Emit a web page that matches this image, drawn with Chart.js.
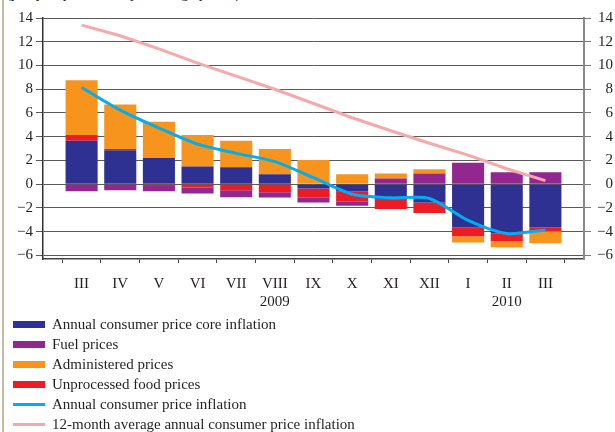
<!DOCTYPE html>
<html>
<head>
<meta charset="UTF-8">
<title>Inflation components</title>
<script src="https://cdn.jsdelivr.net/npm/chart.js@4"></script>
<style>
body { margin:0; background:#fff; font-family:"Liberation Serif", serif; color:#231f20; }
#wrap { position:relative; width:615px; height:432px; overflow:hidden; }
#edge { position:absolute; left:2px; top:0; width:2px; height:432px; background:#cdb89b; }
#note { position:absolute; left:6px; top:-14px; font-size:15px; line-height:15px; white-space:nowrap; }
#chart { position:absolute; left:0; top:0; }
#legend { position:absolute; left:13px; top:314px; font-size:15px; }
.row { height:20px; display:flex; align-items:center; }
.sw { width:32px; margin-right:7px; }
</style>
</head>
<body>
<div id="wrap">
  <div id="edge"></div>
  <div id="note">(y-o-y in percent; in percentage points)</div>
  <canvas id="chart" width="615" height="324"></canvas>
  <div id="legend"></div>
</div>
<script>
// months, March 2009 .. March 2010
const months = ['III','IV','V','VI','VII','VIII','IX','X','XI','XII','I','II','III'];
const years  = ['', '', '', '', '', '2009', '', '', '', '', '', '2010', ''];
const yTicks = [-6, -4, -2, 0, 2, 4, 6, 8, 10, 12, 14];

// contributions, percentage points
const core  = [3.65, 2.87, 2.2, 1.5, 1.43, 0.83, -0.37, -0.6, -1.31, -1.54, -3.62, -4.13, -3.62];
const food  = [0.5, 0.1, -0.15, -0.28, -0.5, -0.68, -0.77, -0.88, -0.77, -0.88, -0.76, -0.65, -0.34];
const fuel  = [-0.6, -0.5, -0.45, -0.5, -0.6, -0.43, -0.4, -0.34, 0.49, 0.91, 1.8, 1.0, 1.0];
const admin = [4.6, 3.75, 3.07, 2.65, 2.22, 2.14, 2.03, 0.83, 0.42, 0.35, -0.52, -0.54, -1.02];
// lines, percent
const cpi   = [8.15, 6.24, 4.73, 3.37, 2.6, 1.9, 0.55, -0.85, -1.15, -1.2, -3.05, -4.15, -3.85];
const avg12 = [13.4, 12.5, 11.4, 10.2, 9.1, 8.0, 6.8, 5.6, 4.5, 3.45, 2.45, 1.3, 0.3];

const C_CORE = '#2e3192', C_FUEL = '#92278f', C_ADMIN = '#f7941d', C_FOOD = '#ed1c24';
const C_CPI = '#00aeef', C_AVG = '#f6a9ab';

// empty slot on each side so the bars sit one slot in from the axes
const pad = arr => [null, ...arr, null];
const labels = pad(months.map((m, i) => years[i] ? [m, years[i]] : m)).map(l => l === null ? '' : l);

const fmt = v => (v < 0 ? '\u2212' + Math.abs(v) : '' + v);
const font = { family: 'Liberation Serif', size: 15 };

const ctx = document.getElementById('chart').getContext('2d');
const chart = new Chart(ctx, {
  type: 'bar',
  data: {
    labels: labels,
    datasets: [
      { type: 'line', label: 'Annual consumer price inflation', data: pad(cpi), yAxisID: 'y1',
        borderColor: C_CPI, borderWidth: 3, pointRadius: 0, tension: 0.25, order: 0 },
      { type: 'line', label: '12-month average annual consumer price inflation', data: pad(avg12), yAxisID: 'y1',
        borderColor: C_AVG, borderWidth: 3, pointRadius: 0, tension: 0, order: 0 },
      { label: 'Annual consumer price core inflation', data: pad(core), backgroundColor: C_CORE, order: 1 },
      { label: 'Unprocessed food prices', data: pad(food), backgroundColor: C_FOOD, order: 1 },
      { label: 'Fuel prices', data: pad(fuel), backgroundColor: C_FUEL, order: 1 },
      { label: 'Administered prices', data: pad(admin), backgroundColor: C_ADMIN, order: 1 }
    ]
  },
  options: {
    responsive: false,
    animation: false,
    barPercentage: 0.83,
    categoryPercentage: 1,
    layout: { padding: { left: 14, right: 2, top: 18, bottom: 1 } },
    plugins: { legend: { display: false }, tooltip: { enabled: false } },
    scales: {
      x: {
        stacked: true,
        offset: false,
        grid: { drawOnChartArea: false, tickLength: 4, color: '#444' },
        border: { color: '#444', width: 1.5 },
        ticks: { font: font, color: '#231f20', padding: 12, maxRotation: 0, autoSkip: false }
      },
      y: {
        stacked: true,
        position: 'left',
        min: -6.3, max: 14,
        afterBuildTicks: s => { s.ticks = yTicks.map(v => ({ value: v })); },
        grid: { color: '#5a5a5a', tickLength: 7 },
        border: { color: '#333', width: 1.5 },
        ticks: { font: font, color: '#231f20', padding: 3, callback: fmt }
      },
      y1: {
        position: 'right',
        min: -6.3, max: 14,
        afterBuildTicks: s => { s.ticks = yTicks.map(v => ({ value: v })); },
        grid: { drawOnChartArea: false, color: '#777', tickLength: 7 },
        border: { color: '#8a8a8a', width: 2 },
        ticks: { font: font, color: '#231f20', padding: 3, crossAlign: 'far', callback: fmt }
      }
    }
  }
});

// legend, in the order of the original figure
const legendOrder = [2, 4, 5, 3, 0, 1];
const lg = document.getElementById('legend');
legendOrder.forEach(i => {
  const ds = chart.data.datasets[i];
  const row = document.createElement('div');
  row.className = 'row';
  const sw = document.createElement('span');
  sw.className = 'sw';
  sw.style.height = ds.type === 'line' ? '3px' : '7px';
  sw.style.background = ds.type === 'line' ? ds.borderColor : ds.backgroundColor;
  const tx = document.createElement('span');
  tx.textContent = ds.label;
  row.appendChild(sw);
  row.appendChild(tx);
  lg.appendChild(row);
});
</script>
</body>
</html>
